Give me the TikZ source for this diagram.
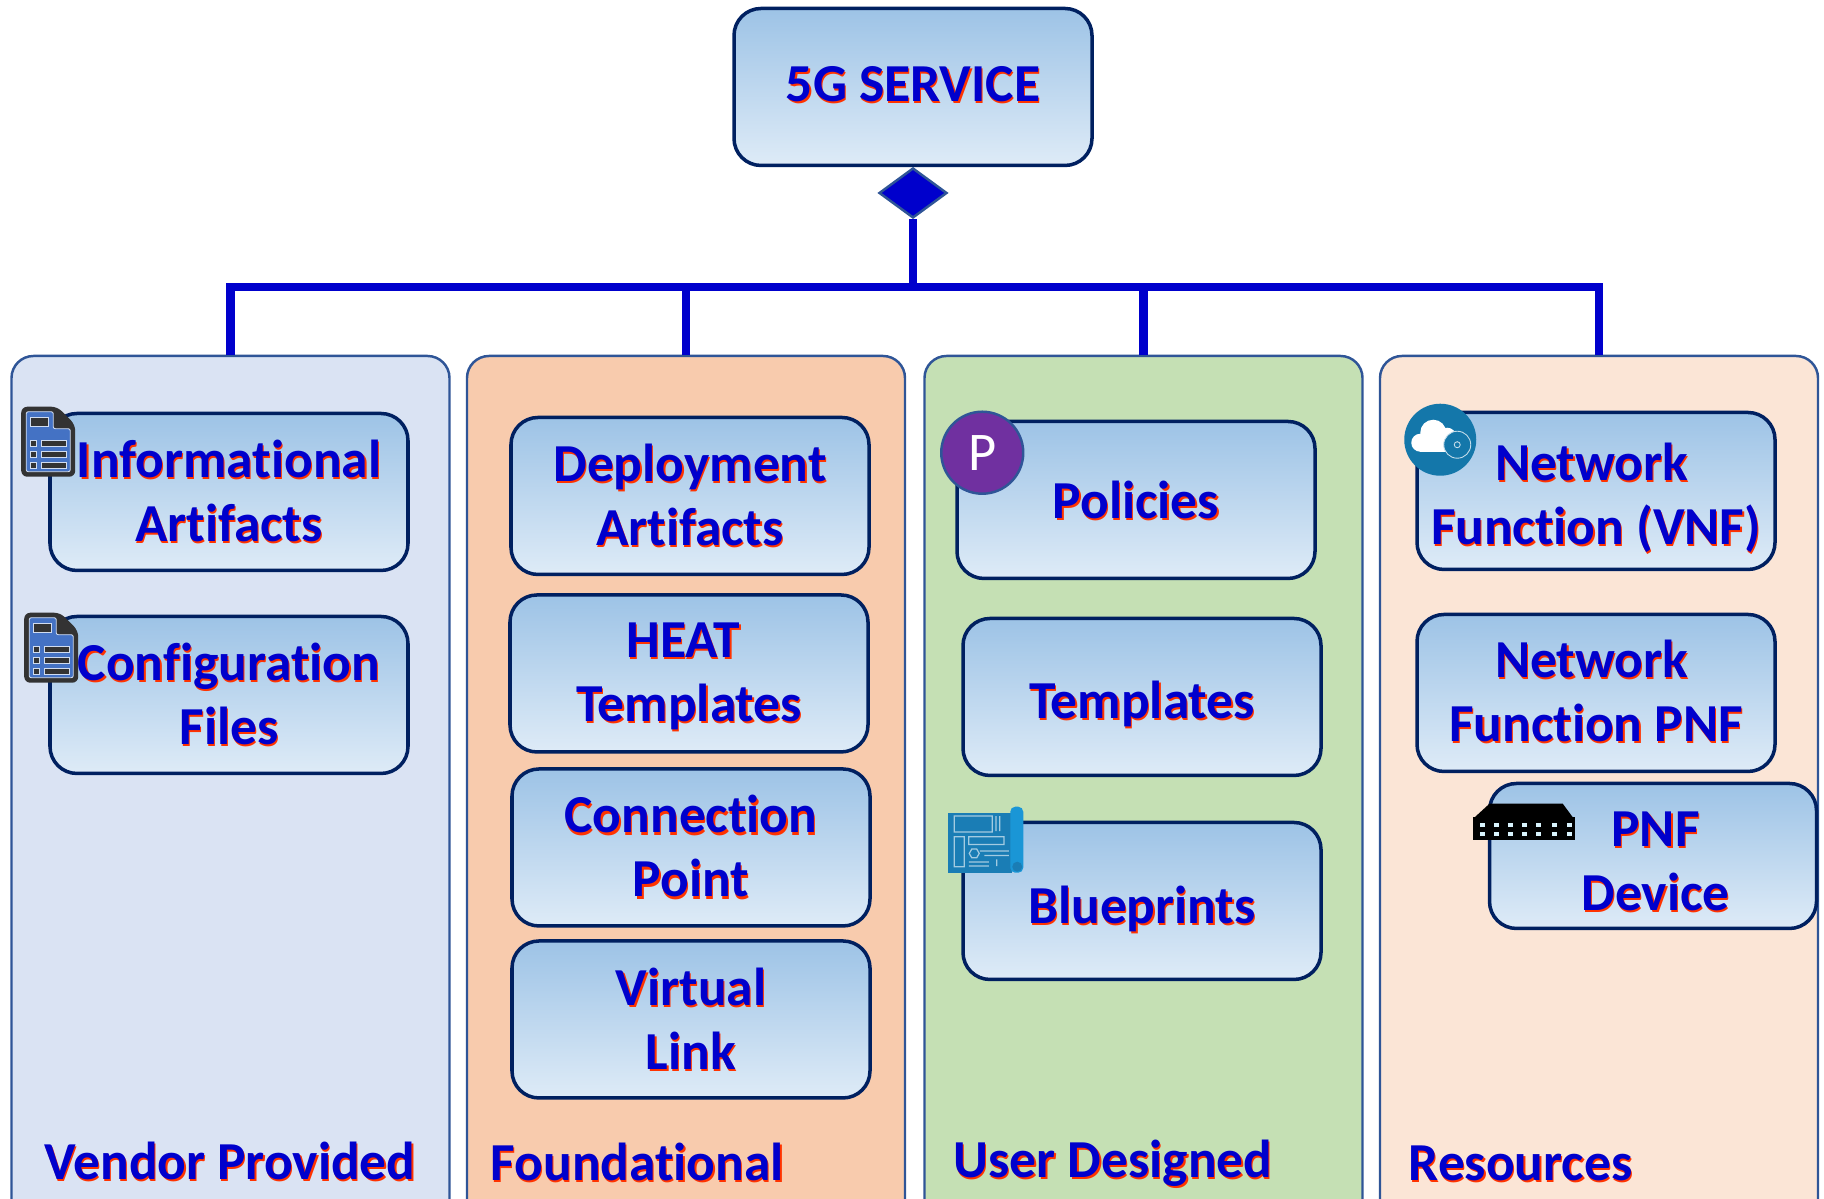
\documentclass[tikz,border=0pt]{standalone}
\usepackage{fontspec}
\setmainfont[Ligatures=NoCommon]{Carlito}
\usetikzlibrary{positioning, shapes.geometric}
\definecolor{txtblue}{HTML}{0000CC}
\definecolor{txtshadow}{HTML}{FF3300}
\definecolor{boxline}{HTML}{002060}
\definecolor{itemtop}{HTML}{9DC3E6}
\definecolor{itembottom}{HTML}{DEEBF7}
\definecolor{panelline}{HTML}{2F5597}
\definecolor{docdark}{HTML}{333333}
\definecolor{docblue}{HTML}{4472C4}
\definecolor{cloudblue}{HTML}{1477AA}
\definecolor{planblue}{HTML}{1A7DB5}
\definecolor{planlight}{HTML}{1A96D6}
\def\txtdrop{0cm}
\newcommand{\shtxt}[1]{\leavevmode\raisebox{-\txtdrop}[\height][\depth]{\rlap{\kern.35pt\raisebox{-.6pt}{\textcolor{txtshadow}{#1}}}#1}}
\tikzset{
panel/.style={draw=panelline, line width=.7pt, rounded corners=.22cm, minimum width=4.38cm, minimum height=9cm}, % runs past the lower edge
item/.style={draw=boxline, line width=1pt, rounded corners=.27cm, top color=itemtop, bottom color=itembottom, minimum width=3.58cm, minimum height=1.57cm, inner sep=0pt, align=center, text=txtblue, font=\fontsize{15.2}{18.2}\selectfont\bfseries},
caption/.style={anchor=west, inner sep=0pt, text=txtblue, font=\fontsize{15.2}{18.2}\selectfont\bfseries},
bus/.style={draw=txtblue, line width=2.3pt},
drop/.style={execute at begin node={\def\txtdrop{#1}}}, % text sits a little off the centre of its box
docicon/.pic={
  \fill[docdark, rounded corners=.06cm] (0,0) -- (0,.70) -- (.36,.70) -- (.54,.52) -- (.54,0) -- cycle;
  \filldraw[fill=docblue, draw=white!75!docblue, line width=.25pt, rounded corners=.02cm] (.05,.05) -- (.05,.65) -- (.32,.65) -- (.32,.48) -- (.49,.48) -- (.49,.05) -- cycle;
  \filldraw[fill=docdark, draw=white!75!docblue, line width=.25pt] (.09,.50) rectangle (.27,.59);
  \foreach \y in {.08,.19,.30}{
    \filldraw[fill=docdark, draw=white!75!docblue, line width=.25pt] (.09,\y) rectangle (.15,\y+.06);
    \filldraw[fill=docdark, draw=white!75!docblue, line width=.25pt] (.20,\y) rectangle (.45,\y+.06);
  }
},
cloudicon/.pic={
  \fill[cloudblue] (0,0) circle (.36);
  \fill[white] (-.20,-.03) circle (.09);
  \fill[white] (-.07,.07) circle (.13);
  \fill[white] (.07,.03) circle (.09);
  \fill[white] (-.20,-.12) rectangle (.10,0);
  \filldraw[fill=cloudblue, draw=white!75!cloudblue, line width=.25pt] (.17,-.05) circle (.135);
  \draw[white!75!cloudblue, line width=.25pt] (.17,-.05) circle (.03);
},
planicon/.pic={
  \fill[planblue] (0,0) rectangle (.64,.60);
  \fill[planlight, rounded corners=.05cm] (.62,0) rectangle (.75,.66);
  \fill[planblue] (.69,.06) circle (.05);
  \draw[white!60!planblue, line width=.35pt] (.06,.407) rectangle (.44,.567) (.478,.417) -- (.478,.567) (.514,.417) -- (.514,.567)
    (.06,.06) rectangle (.16,.36) (.206,.283) rectangle (.558,.36)
    (.26,.193) +(0:.05) -- +(60:.05) -- +(120:.05) -- +(180:.05) -- +(240:.05) -- +(300:.05) -- cycle
    (.315,.217) -- (.605,.217) (.362,.173) -- (.605,.173) (.206,.107) -- (.406,.107) (.206,.067) -- (.406,.067) (.485,.067) -- (.485,.133);
},
switchicon/.pic={
  \fill[black] (0,0) rectangle (1.02,.225);
  \fill[black] (.02,.225) -- (.167,.36) -- (.90,.36) -- (1.0,.225) -- cycle;
  \foreach \x in {.094,.234,.378,.518,.662,.813,.963}{
    \fill[white!85!cyan] (\x-.025,.130) rectangle (\x+.025,.165);
    \fill[white!85!cyan] (\x-.025,.040) rectangle (\x+.025,.075);
  }
},
}

\begin{document}
\begin{tikzpicture}
\path[use as bounding box, clip] (0,0) rectangle (18.24,11.99);

% the four columns
\node[panel, fill={rgb,255:red,218;green,227;blue,243}] (vendor) at (2.305,3.93) {};
\node[panel, fill={rgb,255:red,248;green,203;blue,173}, right of=vendor, node distance=4.555cm] (found) {};
\node[panel, fill={rgb,255:red,197;green,224;blue,180}, right of=found, node distance=4.575cm] (user) {};
\node[panel, fill={rgb,255:red,251;green,229;blue,214}, right of=user, node distance=4.555cm] (res) {};

% top of the tree
\node[item, drop=-.02cm] (service) at (9.13,11.12) {\shtxt{5G SERVICE}};
\node[diamond, draw=panelline, line width=.7pt, fill=txtblue, minimum width=.68cm, minimum height=.50cm, aspect=1.36, inner sep=0pt, below of=service, node distance=1.06cm] (join) {};
\coordinate[below of=join, node distance=.94cm] (hub);

\draw[bus] (join.south) -- (hub);
\draw[bus] (hub) -| (vendor.north);
\draw[bus] (hub) -| (found.north);
\draw[bus] (hub) -| (user.north);
\draw[bus] (hub) -| (res.north);

% vendor provided
\node[item] (info) at (2.29,7.07) {\shtxt{Informational}\\\shtxt{Artifacts}};
\node[item, below of=info, node distance=2.03cm] (config) {\shtxt{Configuration}\\\shtxt{Files}};
\node[caption] (vendorcap) at (.44,.37) {\shtxt{Vendor Provided}};

% foundational
\node[item] (depl) at (6.90,7.03) {\shtxt{Deployment}\\\shtxt{Artifacts}};
\node[item, drop=.04cm, below of=depl, node distance=1.775cm, xshift=-.01cm] (heat) {\shtxt{HEAT}\kern.11cm\\\shtxt{Templates}};
\node[item, below of=heat, node distance=1.74cm, xshift=.02cm] (conn) {\shtxt{Connection}\\\shtxt{Point}};
\node[item, below of=conn, node distance=1.72cm] (vlink) {\shtxt{Virtual}\\\shtxt{Link}};
\node[caption] (foundcap) at (4.90,.36) {\shtxt{Foundational}};

% user designed
\node[item, drop=.01cm] (policy) at (11.36,6.99) {\shtxt{Policies}};
\node[item, drop=.08cm, below of=policy, node distance=1.97cm, xshift=.06cm] (templ) {\shtxt{Templates}};
\node[item, drop=.09cm, below of=templ, node distance=2.04cm] (blue) {\shtxt{Blueprints}};
\node[caption] (usercap) at (9.53,.345) {\shtxt{User Designed}};

% resources
\node[item, drop=.08cm] (vnf) at (15.96,7.08) {\shtxt{Network}\kern.09cm\\\shtxt{Function (VNF)}};
\node[item, drop=-.01cm, below of=vnf, node distance=2.02cm] (pnf) {\shtxt{Network}\kern.09cm\\\shtxt{Function PNF}};
\node[item, drop=.06cm, minimum width=3.27cm, minimum height=1.45cm, below of=pnf, node distance=1.63cm, xshift=.57cm] (device) {\kern.05cm\shtxt{PNF}\\\kern.05cm\shtxt{Device}};
\node[caption] (rescap) at (14.08,.35) {\shtxt{Resources}};

% icons
\pic at ([shift={(-.27,-.65)}]info.north west) {docicon};
\pic at ([shift={(-.24,-.68)}]config.north west) {docicon};
\pic at ([shift={(-.13,-.52)}]blue.north west) {planicon};
\pic at ([shift={(-.15,-.58)}]device.north west) {switchicon};
\pic at ([shift={(.25,-.29)}]vnf.north west) {cloudicon};
\node[circle, draw=panelline, line width=.7pt, fill={rgb,255:red,112;green,48;blue,160}, minimum size=.82cm, inner sep=0pt, text=white, font=\fontsize{15.5}{18}\selectfont] (picon) at ([shift={(.27,-.33)}]policy.north west) {P};
\end{tikzpicture}
\end{document}
